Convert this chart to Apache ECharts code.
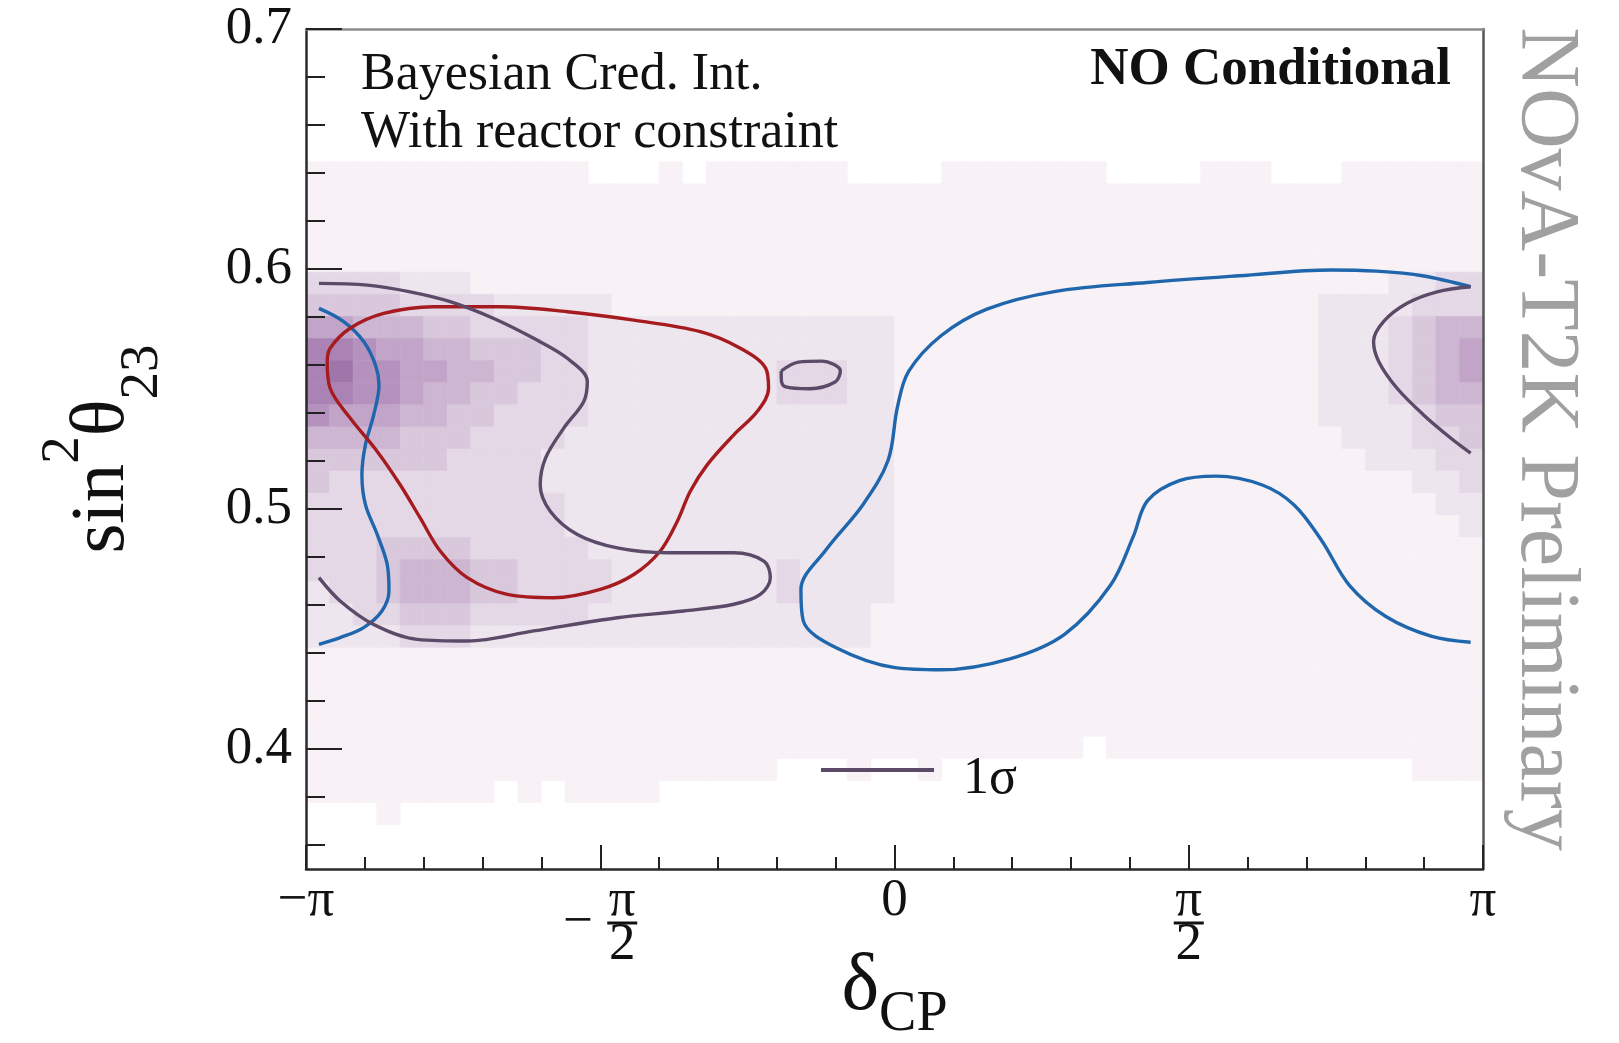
<!DOCTYPE html>
<html>
<head>
<meta charset="utf-8">
<script src="https://cdn.jsdelivr.net/npm/echarts@6/dist/echarts.min.js"></script>
<style>
  html, body { margin: 0; padding: 0; background: #ffffff; }
  #chart { width: 1619px; height: 1043px; }
</style>
</head>
<body>
<div id="chart"></div>
<script>
// Axis ranges: delta_CP is stored in units of pi, sin^2(theta23) as is.
const deltaRange = [-1, 1];
const sinRange = [0.35, 0.70];

// Tick positions
const deltaMajorTicks = [-1, -0.5, 0, 0.5, 1];
const deltaMinorTicks = [-0.9, -0.8, -0.7, -0.6, -0.4, -0.3, -0.2, -0.1,
                          0.1, 0.2, 0.3, 0.4, 0.6, 0.7, 0.8, 0.9];
const sinMajorTicks = [0.4, 0.5, 0.6, 0.7];
const sinMinorTicks = [0.36, 0.38, 0.42, 0.44, 0.46, 0.48, 0.52, 0.54, 0.56, 0.58,
                       0.62, 0.64, 0.66, 0.68];

// Posterior density histogram: 50 delta bins x 38 sin^2 bins over the axis ranges.
// One character per bin (0 = empty, 1..9 = increasing density).
// The first string is bin row 31 (0.636-0.645); the last is row 0 (0.350-0.359).
const heatColumns = 50;
const heatRowCount = 38;
const heatRows = [
  '1111111111 1100010111 1110000111 1111000011 1000111111',
  '1111111111 1111111111 1111111111 1111111111 1111111111',
  '1111111111 1111111111 1111111111 1111111111 1111111111',
  '1111111111 1111111111 1111111111 1111111111 1111111111',
  '1111111111 1111111111 1111111111 1111111111 1111111111',
  '3333222111 1111111111 1111111111 1111111111 1111112233',
  '4444333322 2221111111 1111111111 1111111111 1112222333',
  '6655544333 3322222222 2222211111 1111111111 1112223455',
  '8876655444 3322222222 2222211111 1111111111 1112223456',
  '8977665544 3322222222 3332211111 1111111111 1112223456',
  '8877655443 3322222222 3332211111 1111111111 1112223455',
  '7666554433 3322222222 2222211111 1111111111 1112222344',
  '5555444333 3222222222 2222211111 1111111111 1111222334',
  '4444443333 2222222222 2222211111 1111111111 1111122233',
  '4333333333 2222222222 2222211111 1111111111 1111111223',
  '3333333333 3222222222 2222211111 1111111111 1111111122',
  '3333333333 3222222222 2222211111 1111111111 1111111112',
  '3334444333 3322222222 2222211111 1111111111 1111111111',
  '3334555443 3332222222 3222211111 1111111111 1111111111',
  '2334555443 3332222222 3222211111 1111111111 1111111111',
  '2233444333 3322222222 2222111111 1111111111 1111111111',
  '2222333222 2222222222 2222111111 1111111111 1111111111',
  '1111111111 1111111111 1111111111 1111111111 1111111111',
  '1111111111 1111111111 1111111111 1111111111 1111111111',
  '1111111111 1111111111 1111111111 1111111111 1111111111',
  '1111111111 1111111111 1111111111 1111111111 1111111111',
  '1111111111 1111111111 1111111111 1110111111 1111111111',
  '1111111111 1111111111 0001001000 0000000000 0000000111',
  '1111111101 0111100000 0000000000 0000000000 0000000000',
  '0001000000 0000000000 0000000000 0000000000 0000000000',
  '0000000000 0000000000 0000000000 0000000000 0000000000',
  '0000000000 0000000000 0000000000 0000000000 0000000000'
];
const heatPalette = ['#f8f2f7', '#eee6ee', '#e4d8e6', '#d9c8dc', '#cdb6d2',
                     '#c1a4c8', '#b592be', '#aa83b4', '#9f76aa'];

// Contours as [delta/pi, sin^2 theta23]
const blueWest = [
  [-0.978, 0.5836], [-0.936, 0.5781], [-0.902, 0.5698], [-0.882, 0.5600], [-0.876, 0.5517],
  [-0.885, 0.5392], [-0.899, 0.5268], [-0.905, 0.5143], [-0.899, 0.5018], [-0.879, 0.4894],
  [-0.862, 0.4769], [-0.859, 0.4658], [-0.871, 0.4575], [-0.902, 0.4506], [-0.942, 0.4464],
  [-0.978, 0.4436]
];
const blueEast = [
  [0.979, 0.5926], [0.897, 0.5972], [0.819, 0.5991], [0.742, 0.5996], [0.586, 0.5972],
  [0.430, 0.5944], [0.274, 0.5907], [0.157, 0.5833], [0.079, 0.5722], [0.024, 0.5573],
  [0.005, 0.5425], [-0.011, 0.5202], [-0.054, 0.5017], [-0.116, 0.4831], [-0.159, 0.4664],
  [-0.155, 0.4534], [-0.100, 0.4423], [0.001, 0.4339], [0.079, 0.4330], [0.196, 0.4376],
  [0.289, 0.4478], [0.367, 0.4682], [0.406, 0.4887], [0.430, 0.5035], [0.484, 0.5118],
  [0.547, 0.5137], [0.625, 0.5100], [0.679, 0.5017], [0.726, 0.4868], [0.773, 0.4682],
  [0.835, 0.4552], [0.913, 0.4469], [0.979, 0.4445]
];
const redLoop = [
  [-0.964, 0.5614], [-0.959, 0.5670], [-0.925, 0.5753], [-0.868, 0.5815], [-0.783, 0.5843],
  [-0.670, 0.5843], [-0.556, 0.5822], [-0.443, 0.5787], [-0.330, 0.5739], [-0.262, 0.5670],
  [-0.219, 0.5587], [-0.214, 0.5503], [-0.233, 0.5407], [-0.273, 0.5309], [-0.318, 0.5185],
  [-0.347, 0.5074], [-0.369, 0.4949], [-0.398, 0.4825], [-0.443, 0.4727], [-0.500, 0.4665],
  [-0.579, 0.4630], [-0.658, 0.4644], [-0.726, 0.4714], [-0.772, 0.4825], [-0.806, 0.4963],
  [-0.840, 0.5101], [-0.879, 0.5240], [-0.925, 0.5379], [-0.959, 0.5503], [-0.964, 0.5614]
];
const sigmaWest = [
  [-0.978, 0.5940], [-0.896, 0.5933], [-0.823, 0.5905], [-0.755, 0.5864], [-0.681, 0.5794],
  [-0.613, 0.5711], [-0.556, 0.5628], [-0.522, 0.5531], [-0.528, 0.5448], [-0.562, 0.5337],
  [-0.593, 0.5212], [-0.602, 0.5101], [-0.585, 0.4991], [-0.539, 0.4894], [-0.471, 0.4838],
  [-0.386, 0.4818], [-0.273, 0.4818], [-0.222, 0.4783], [-0.211, 0.4714], [-0.228, 0.4644],
  [-0.273, 0.4603], [-0.358, 0.4575], [-0.471, 0.4547], [-0.613, 0.4492], [-0.726, 0.4450],
  [-0.811, 0.4457], [-0.885, 0.4519], [-0.942, 0.4617], [-0.978, 0.4714]
];
const sigmaIsland = [
  [-0.1925, 0.5575], [-0.163, 0.5612], [-0.124, 0.5616], [-0.092, 0.5575], [-0.101, 0.5529],
  [-0.144, 0.5501], [-0.186, 0.5510], [-0.1925, 0.5547], [-0.1925, 0.5575]
];
const sigmaEast = [
  [0.979, 0.5926], [0.922, 0.5905], [0.871, 0.5857], [0.831, 0.5781], [0.814, 0.5698],
  [0.823, 0.5614], [0.854, 0.5503], [0.899, 0.5392], [0.945, 0.5296], [0.979, 0.5233]
];

const SERIF = '"Liberation Serif", "Times New Roman", serif';
const INK = '#111111';
const COLOR_BLUE = '#1f66ad';
const COLOR_RED = '#a51b1f';
const COLOR_SIGMA = '#5b4a68';

// Build the bin list [x0, x1, y0, y1, level] from the character grid.
const binW = (deltaRange[1] - deltaRange[0]) / heatColumns;
const binH = (sinRange[1] - sinRange[0]) / heatRowCount;
const heatCells = [];
heatRows.forEach(function (row, k) {
  const r = heatRows.length - 1 - k;
  const s = row.replace(/ /g, '');
  for (let c = 0; c < s.length; c++) {
    const lv = +s[c];
    if (lv > 0) {
      heatCells.push([
        deltaRange[0] + c * binW, deltaRange[0] + (c + 1) * binW,
        sinRange[0] + r * binH, sinRange[0] + (r + 1) * binH, lv
      ]);
    }
  }
});

function piLabel(v) {
  const k = Math.round(v * 2);
  if (k === 0) return '{n|0}';
  if (k === -2) return '{n|\u2212\u03c0}';
  if (k === 2) return '{n|\u03c0}';
  if (k === -1) return '{sp| }{f|\u03c0}\n{m|\u2212}{bar| }\n{sp| }{f|2}';
  if (k === 1) return '{f|\u03c0}\n{bar| }\n{f|2}';
  return '';
}

function contour(name, data, color) {
  return {
    type: 'line', name: name, data: data, smooth: 0.35, symbol: 'none',
    lineStyle: { color: color, width: 3.4 }, itemStyle: { color: color },
    z: 4, silent: true, animation: false
  };
}

const chart = echarts.init(document.getElementById('chart'), null, { renderer: 'canvas' });

const tickStyle = { color: '#222222', width: 2 };

chart.setOption({
  animation: false,
  backgroundColor: '#ffffff',
  grid: { left: 306, right: 136, top: 29, bottom: 174, outerBoundsMode: 'none', containLabel: false },
  xAxis: [
    {
      type: 'value', min: deltaRange[0], max: deltaRange[1], position: 'bottom', z: 5,
      axisLine: { show: true, onZero: false, lineStyle: { color: '#2a2a2a', width: 2.5 } },
      axisTick: { show: true, inside: true, length: 24, customValues: deltaMajorTicks, lineStyle: tickStyle },
      axisLabel: {
        show: true, customValues: deltaMajorTicks, margin: 13, formatter: piLabel,
        fontFamily: SERIF, fontSize: 53, color: INK,
        rich: {
          n: { fontFamily: SERIF, fontSize: 53, lineHeight: 38, color: INK },
          f: { fontFamily: SERIF, fontSize: 53, lineHeight: 38, width: 30, align: 'center', color: INK },
          sp: { fontFamily: SERIF, fontSize: 10, lineHeight: 38, width: 44 },
          m: { fontFamily: SERIF, fontSize: 53, lineHeight: 6, width: 44, align: 'left', color: INK },
          bar: { fontSize: 2, width: 30, height: 3, lineHeight: 6, backgroundColor: INK }
        }
      },
      splitLine: { show: false },
      name: '{d|\u03b4}{s|CP}', nameLocation: 'middle', nameGap: 64, nameMoveOverlap: false,
      nameTextStyle: {
        rich: {
          d: { fontFamily: SERIF, fontSize: 80, lineHeight: 110, color: INK },
          s: { fontFamily: SERIF, fontSize: 56, lineHeight: 56, verticalAlign: 'bottom', color: INK }
        }
      }
    },
    {
      type: 'value', min: deltaRange[0], max: deltaRange[1], position: 'bottom', z: 5,
      axisLine: { show: false, onZero: false },
      axisTick: { show: true, inside: true, length: 12, customValues: deltaMinorTicks, lineStyle: tickStyle },
      axisLabel: { show: false }, splitLine: { show: false }
    },
    {
      type: 'value', min: deltaRange[0], max: deltaRange[1], position: 'top', z: 5,
      axisLine: { show: true, onZero: false, lineStyle: { color: '#8c8c8c', width: 2.5 } },
      axisTick: { show: false }, axisLabel: { show: false }, splitLine: { show: false }
    }
  ],
  yAxis: [
    {
      type: 'value', min: sinRange[0], max: sinRange[1], position: 'left', z: 5,
      axisLine: { show: true, onZero: false, lineStyle: { color: '#2a2a2a', width: 2.5 } },
      axisTick: { show: true, inside: true, length: 36, customValues: sinMajorTicks, lineStyle: tickStyle },
      axisLabel: {
        show: true, customValues: sinMajorTicks, margin: 14,
        formatter: function (v) { return v.toFixed(1); },
        fontFamily: SERIF, fontSize: 53, color: INK
      },
      splitLine: { show: false },
      name: '{a|sin}{p|2}{a|\u03b8}{b|23}', nameLocation: 'middle', nameRotate: 90, nameGap: 136,
      nameMoveOverlap: false,
      nameTextStyle: {
        rich: {
          a: { fontFamily: SERIF, fontSize: 77, lineHeight: 134, color: INK },
          p: { fontFamily: SERIF, fontSize: 55, lineHeight: 55, verticalAlign: 'top', color: INK },
          b: { fontFamily: SERIF, fontSize: 55, lineHeight: 55, verticalAlign: 'bottom', color: INK }
        }
      }
    },
    {
      type: 'value', min: sinRange[0], max: sinRange[1], position: 'left', z: 5,
      axisLine: { show: false, onZero: false },
      axisTick: { show: true, inside: true, length: 19, customValues: sinMinorTicks, lineStyle: tickStyle },
      axisLabel: { show: false }, splitLine: { show: false }
    },
    {
      type: 'value', min: sinRange[0], max: sinRange[1], position: 'right', z: 5,
      axisLine: { show: true, onZero: false, lineStyle: { color: '#555555', width: 2.5 } },
      axisTick: { show: false }, axisLabel: { show: false }, splitLine: { show: false }
    }
  ],
  visualMap: {
    type: 'continuous', show: false, seriesIndex: 0, dimension: 4, min: 1, max: 9,
    inRange: { color: heatPalette }
  },
  legend: {
    data: ['1\u03c3'], left: 821, top: 753, padding: 0, icon: 'rect',
    itemWidth: 113, itemHeight: 4, selectedMode: false,
    formatter: '{t|{name}}',
    textStyle: {
      fontFamily: SERIF, fontSize: 52, color: INK,
      rich: { t: { fontFamily: SERIF, fontSize: 52, color: INK, padding: [18, 0, 0, 24] } }
    }
  },
  series: [
    {
      type: 'custom', name: 'posterior', data: heatCells, z: 1, silent: true,
      encode: { x: [0, 1], y: [2, 3] },
      renderItem: function (params, api) {
        const a = api.coord([api.value(0), api.value(3)]);
        const b = api.coord([api.value(1), api.value(2)]);
        const col = api.visual('color');
        return {
          type: 'rect',
          shape: { x: a[0], y: a[1], width: b[0] - a[0], height: b[1] - a[1] },
          style: { fill: col, stroke: col, lineWidth: 0.6 }
        };
      }
    },
    contour('contourBlue', blueWest, COLOR_BLUE),
    contour('contourBlue', blueEast, COLOR_BLUE),
    contour('contourRed', redLoop, COLOR_RED),
    contour('1\u03c3', sigmaWest, COLOR_SIGMA),
    contour('1\u03c3', sigmaIsland, COLOR_SIGMA),
    contour('1\u03c3', sigmaEast, COLOR_SIGMA)
  ],
  graphic: [
    { type: 'text', x: 361, y: 75, z: 10,
      style: { text: 'Bayesian Cred. Int.', fontFamily: SERIF, fontSize: 52, fill: INK, verticalAlign: 'middle' } },
    { type: 'text', x: 361, y: 133, z: 10,
      style: { text: 'With reactor constraint', fontFamily: SERIF, fontSize: 52, fill: INK, verticalAlign: 'middle' } },
    { type: 'text', x: 1451, y: 70, z: 10,
      style: { text: 'NO Conditional', fontFamily: SERIF, fontSize: 53, fontWeight: 'bold', fill: INK,
               align: 'right', verticalAlign: 'middle' } },
    { type: 'text', x: 1544, y: 439, rotation: -Math.PI / 2, z: 10,
      style: { text: 'NOvA-T2K Preliminary', fontFamily: SERIF, fontSize: 84, fill: '#a0a0a0',
               align: 'center', verticalAlign: 'middle' } }
  ]
});
</script>
</body>
</html>
